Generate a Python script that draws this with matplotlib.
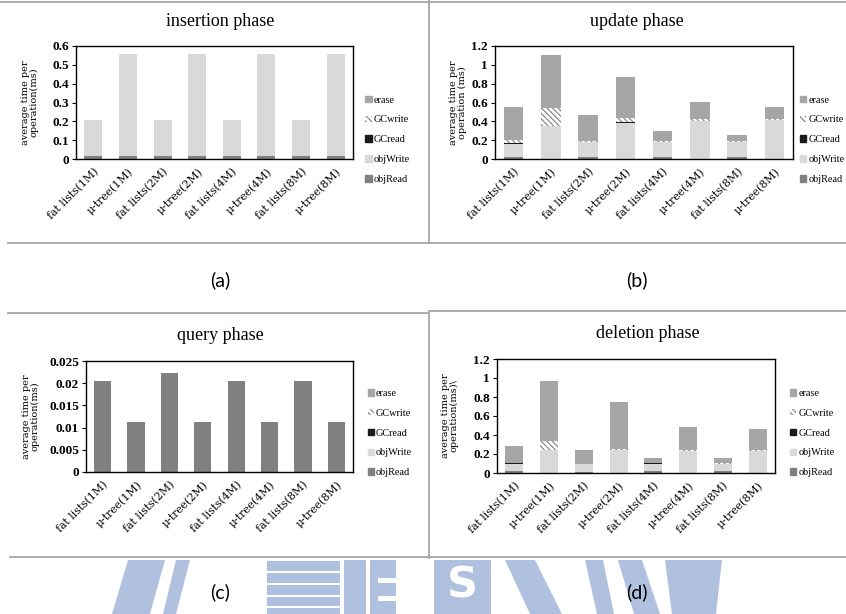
import numpy as np
import matplotlib
matplotlib.use("Agg")
import matplotlib.pyplot as plt
from matplotlib.patches import Rectangle, Polygon, Patch

plt.rcParams['font.family'] = ['Liberation Serif', 'DejaVu Serif']
plt.rcParams['hatch.linewidth'] = 0.8

# categories shared by every panel
labels = ['fat lists(1M)', 'μ-tree(1M)', 'fat lists(2M)', 'μ-tree(2M)',
          'fat lists(4M)', 'μ-tree(4M)', 'fat lists(8M)', 'μ-tree(8M)']
series = ['objRead', 'objWrite', 'GCread', 'GCwrite', 'erase']

# insertion phase (ms per op, stacked segments)
ins_objRead = [0.015] * 8
ins_objWrite = [0.19, 0.545, 0.19, 0.545, 0.19, 0.545, 0.19, 0.545]
ins_GCread = [0] * 8
ins_GCwrite = [0] * 8
ins_erase = [0] * 8

# update phase
upd_objRead = [0.02, 0.005, 0.02, 0.005, 0.02, 0.005, 0.02, 0.005]
upd_objWrite = [0.14, 0.347, 0.163, 0.382, 0.163, 0.395, 0.163, 0.405]
upd_GCread = [0.008, 0.002, 0.002, 0.008, 0.002, 0.008, 0.002, 0.002]
upd_GCwrite = [0.036, 0.192, 0.008, 0.045, 0.008, 0.012, 0.008, 0.008]
upd_erase = [0.349, 0.559, 0.275, 0.433, 0.107, 0.186, 0.064, 0.133]

# query phase
qry_objRead = [0.0205, 0.0112, 0.0223, 0.0112, 0.0204, 0.0112, 0.0205, 0.0112]
qry_objWrite = [0] * 8
qry_GCread = [0] * 8
qry_GCwrite = [0] * 8
qry_erase = [0] * 8

# deletion phase
del_objRead = [0.025, 0.003, 0.015, 0.003, 0.025, 0.003, 0.025, 0.003]
del_objWrite = [0.075, 0.237, 0.077, 0.241, 0.075, 0.23, 0.067, 0.23]
del_GCread = [0.002, 0.002, 0.002, 0.001, 0.002, 0.001, 0.002, 0.001]
del_GCwrite = [0.008, 0.094, 0.006, 0.005, 0.008, 0.006, 0.012, 0.006]
del_erase = [0.17, 0.632, 0.147, 0.496, 0.053, 0.24, 0.057, 0.22]

styles = {
    'objRead': dict(color='#808080'),
    'objWrite': dict(color='#d9d9d9'),
    'GCread': dict(color='#1a1a1a'),
    'GCwrite': dict(facecolor='white', edgecolor='#7f7f7f', hatch='\\\\\\\\\\\\', linewidth=0),
    'erase': dict(color='#a6a6a6'),
}

W, H = 846, 614
fig = plt.figure(figsize=(W / 100, H / 100), dpi=100)


def px_axes(l, t, r, b, **kw):
    return fig.add_axes([l / W, 1 - b / H, (r - l) / W, (b - t) / H], **kw)


# page decoration layer: frames, panel letters, watermark
deco = px_axes(0, 0, W, H, zorder=-5)
deco.set_xlim(0, W)
deco.set_ylim(H, 0)
deco.axis('off')

wm = '#b0c1e0'
for poly in [[(128, 560), (165, 560), (150, 614), (112, 614)],
             [(176, 560), (190, 560), (176, 614), (163, 614)],
             [(505, 560), (535, 560), (562, 614), (530, 614)],
             [(585, 560), (603, 560), (614, 614), (597, 614)],
             [(618, 560), (642, 560), (660, 614), (634, 614)],
             [(665, 560), (722, 560), (716, 614), (672, 614)]]:
    deco.add_patch(Polygon(poly, closed=True, color=wm, lw=0))
for y0, y1 in [(561, 571), (573, 583), (585, 595), (597, 606), (608, 614)]:
    deco.add_patch(Rectangle((267, y0), 73, y1 - y0, color=wm, lw=0))
deco.add_patch(Rectangle((344, 560), 22, 54, color=wm, lw=0))
deco.add_patch(Rectangle((370, 560), 26, 54, color=wm, lw=0))
for y0 in [578, 596]:
    deco.add_patch(Rectangle((378, y0), 18, 5, color='white', lw=0))
deco.add_patch(Rectangle((434, 560), 57, 54, color=wm, lw=0))
deco.text(462, 586, 'S', color='white', fontsize=31, fontweight='bold',
          family='DejaVu Sans', ha='center', va='center')

line_kw = dict(color='#a6a6a6', lw=1.3)
deco.plot([0, W], [2, 2], **line_kw)
deco.plot([429, 429], [0, 243], **line_kw)
deco.plot([8, W], [243, 243], **line_kw)
deco.plot([8, 428], [313, 313], **line_kw)
deco.plot([430, W], [311, 311], **line_kw)
deco.plot([429, 429], [311, 558], **line_kw)
deco.plot([10, W], [557, 557], **line_kw)

for txt, x, y in [('(a)', 220, 280), ('(b)', 637, 280), ('(c)', 220, 592), ('(d)', 637, 592)]:
    deco.text(x, y, txt, fontsize=14, family='Lato', ha='center', va='center')

panels = [
    ('insertion phase', (76, 46, 353, 159), (220, 21), 30, 0.6, 0.1, 0.17, 1.03,
     [ins_objRead, ins_objWrite, ins_GCread, ins_GCwrite, ins_erase], 'average time per\noperation(ms)'),
    ('update phase', (495, 46, 793, 159), (637, 22), 458, 1.2, 0.2, 0.17, 1.01,
     [upd_objRead, upd_objWrite, upd_GCread, upd_GCwrite, upd_erase], 'average time per\noperation (ms)'),
    ('query phase', (86, 361, 353, 472), (220, 335), 31, 0.025, 0.005, 0.35, 1.04,
     [qry_objRead, qry_objWrite, qry_GCread, qry_GCwrite, qry_erase], 'average time per\noperation(ms)'),
    ('deletion phase', (497, 359, 775, 473), (648, 333), 450, 1.2, 0.2, 0.35, 1.04,
     [del_objRead, del_objWrite, del_GCread, del_GCwrite, del_erase], 'average time per\noperation(ms)\\'),
]

x = np.arange(len(labels))
for title, rect, tpos, ylx, ymax, ystep, legy, legx, data, ylab in panels:
    ax = px_axes(*rect)
    bottom = np.zeros(len(labels))
    for name, vals in zip(series, data):
        vals = np.array(vals, dtype=float)
        ax.bar(x, vals, 0.52, bottom=bottom, **styles[name])
        bottom += vals
    ax.set_xlim(-0.5, len(labels) - 0.5)
    ax.set_ylim(0, ymax)
    ticks = np.round(np.arange(0, ymax + ystep / 2, ystep), 4)
    ax.set_yticks(ticks)
    ax.set_yticklabels([f'{t:g}' for t in ticks], fontsize=9.5, fontweight='bold')
    ax.set_xticks(x)
    ax.set_xticklabels(labels, rotation=45, ha='right', va='top', family='DejaVu Serif',
                       rotation_mode='anchor', fontsize=7.8)
    ax.tick_params(axis='x', length=0, pad=5)
    ax.tick_params(axis='y', direction='out', length=3, width=0.8, pad=2)
    for sp in ax.spines.values():
        sp.set_linewidth(1.0)
        sp.set_color('black')

    handles = [Patch(**styles[n], label=n) for n in series[::-1]]
    ax.legend(handles=handles, loc='center left', bbox_to_anchor=(legx, legy),
              frameon=False, fontsize=7.4, handlelength=0.6, handleheight=0.6,
              handletextpad=0.2, labelspacing=1.05, borderaxespad=0)

    fig.text(tpos[0] / W, 1 - tpos[1] / H, title, fontsize=13, ha='center', va='center')
    cy = (rect[1] + rect[3]) / 2
    fig.text(ylx / W, 1 - cy / H, ylab, rotation=90, fontsize=7, family='DejaVu Serif',
             ha='center', va='center', multialignment='center', linespacing=0.95)

fig.savefig('out.png', dpi=100)
